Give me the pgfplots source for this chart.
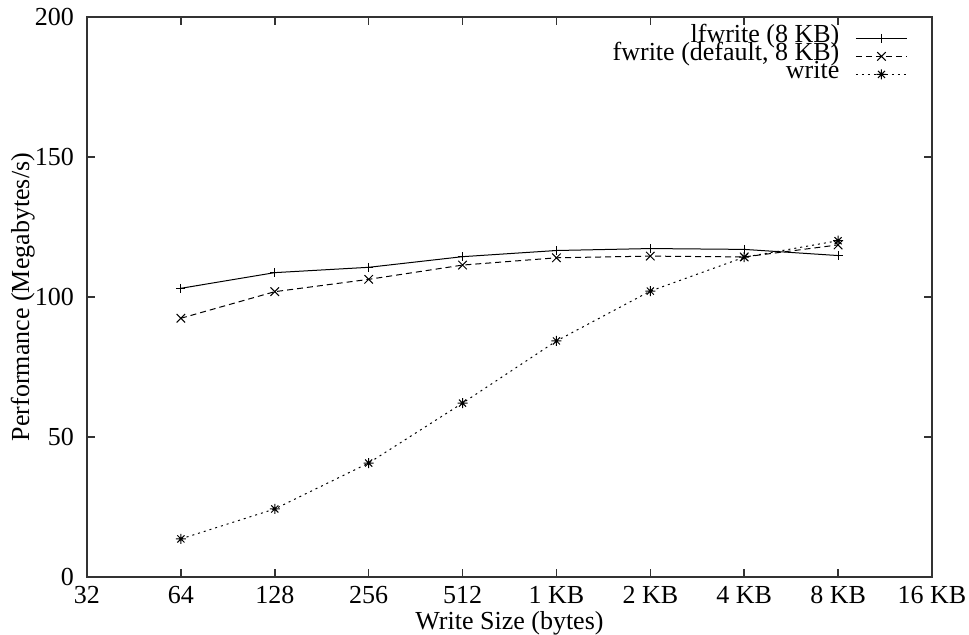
\documentclass[border=0pt]{standalone}
\usepackage{fontspec}
\setmainfont{Liberation Serif}
\usepackage{pgfplots}
\pgfplotsset{compat=1.18}

% gnuplot style point: plus and cross together
\pgfdeclareplotmark{gpstar}{%
  \pgfpathmoveto{\pgfqpoint{-\pgfplotmarksize}{0pt}}%
  \pgfpathlineto{\pgfqpoint{\pgfplotmarksize}{0pt}}%
  \pgfpathmoveto{\pgfqpoint{0pt}{-\pgfplotmarksize}}%
  \pgfpathlineto{\pgfqpoint{0pt}{\pgfplotmarksize}}%
  \pgfpathmoveto{\pgfqpoint{-.7071\pgfplotmarksize}{-.7071\pgfplotmarksize}}%
  \pgfpathlineto{\pgfqpoint{.7071\pgfplotmarksize}{.7071\pgfplotmarksize}}%
  \pgfpathmoveto{\pgfqpoint{-.7071\pgfplotmarksize}{.7071\pgfplotmarksize}}%
  \pgfpathlineto{\pgfqpoint{.7071\pgfplotmarksize}{-.7071\pgfplotmarksize}}%
  \pgfusepathqstroke}

\begin{document}
\fontsize{13pt}{15pt}\selectfont
\begin{tikzpicture}
\useasboundingbox (-43.5pt,-29pt) rectangle (441pt,288.5pt);
\begin{axis}[
    at={(0,0)}, anchor=south west,
    scale only axis,
    width=422.5pt, height=280pt,
    xmin=0, xmax=9,
    ymin=0, ymax=200,
    xtick={0,1,2,3,4,5,6,7,8,9},
    xticklabels={32,64,128,256,512,1 KB,2 KB,4 KB,8 KB,16 KB},
    ytick={0,50,100,150,200},
    tick align=inside,
    major tick length=4pt,
    axis line style={line width=0.9pt, black!80},
    every tick/.style={line width=0.8pt, black!80},
    /pgf/number format/assume math mode=true,
    ticklabel style={font=\fontsize{13pt}{15pt}\selectfont},
    yticklabel style={xshift=-2pt},
    xlabel={Write Size (bytes)},
    ylabel={Performance (Megabytes/s)},
    label style={font=\fontsize{13pt}{15pt}\selectfont},
    xlabel style={at={(axis description cs:0.5,-0.0929)}, anchor=base},
    ylabel style={at={(axis description cs:-0.0686,0.5)}, anchor=base},
    legend plot pos=right,
    legend cell align=right,
    legend style={draw=none, fill=none, at={(rel axis cs:1,1)}, anchor=north east,
        xshift=-9pt, yshift=-4pt, column sep=4pt,
        font=\fontsize{13pt}{15pt}\selectfont,
        nodes={inner sep=0pt, text height=6.5pt, text depth=2.5pt, inner xsep=4pt}},
    legend image code/.code={%
        \draw[mark repeat=2, mark phase=2, #1] plot coordinates {(0cm,0cm) (0.45cm,0cm) (0.9cm,0cm)};},
]
\addplot[black, line width=0.5pt, mark=+, mark size=2.2pt, mark options={solid}] coordinates {
    (1,103.1) (2,108.7) (3,110.6) (4,114.4) (5,116.6) (6,117.3) (7,117.0) (8,114.8)
};
\addlegendentry{lfwrite (8 KB)}
\addplot[black, line width=0.5pt, dash pattern=on 3pt off 2pt, mark=x, mark size=3pt, mark options={solid}] coordinates {
    (1,92.4) (2,101.9) (3,106.3) (4,111.4) (5,114.0) (6,114.6) (7,114.3) (8,118.6)
};
\addlegendentry{fwrite (default, 8 KB)}
\addplot[black, line width=0.5pt, dash pattern=on 1pt off 2pt, mark=gpstar, mark size=2.5pt, mark options={solid}] coordinates {
    (1,13.6) (2,24.3) (3,40.7) (4,62.1) (5,84.3) (6,102.1) (7,114.2) (8,120.1)
};
\addlegendentry{write}
\end{axis}
\end{tikzpicture}
\end{document}
